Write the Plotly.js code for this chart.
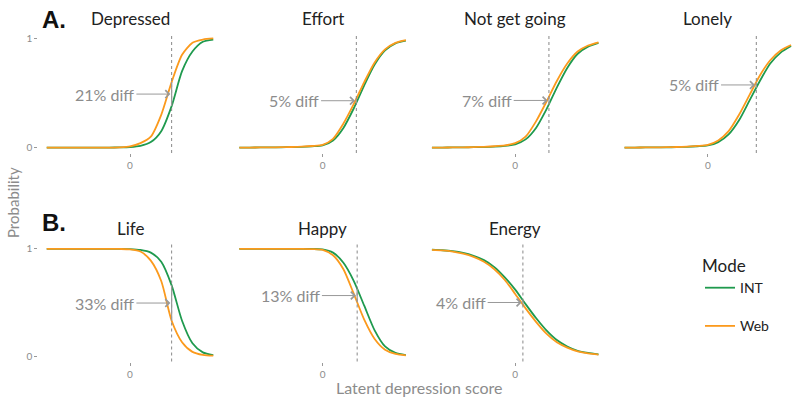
<!DOCTYPE html>
<html>
<head>
<meta charset="utf-8">
<script src="https://cdn.plot.ly/plotly-3.0.1.min.js"></script>
<style>
  html, body { margin: 0; padding: 0; background: #fff; }
  #chart { width: 800px; height: 404px; }
</style>
</head>
<body>
<div id="chart"></div>
<script>
// Item response curves by survey mode
const X = [-4, -3.5, -3, -2.5, -2, -1.5, -1, -0.5, 0, 0.5, 1, 1.5, 2, 2.5, 3, 3.5, 4];

const ITEMS = ['Depressed', 'Effort', 'Not get going', 'Lonely', 'Life', 'Happy', 'Energy'];

const INT_DEPRESSED = [0, 0, 0, 0, 0, 0, 0, 0.001, 0.004, 0.015, 0.05, 0.15, 0.38, 0.70, 0.88, 0.97, 0.99];
const WEB_DEPRESSED = [0, 0, 0, 0, 0, 0, 0, 0.002, 0.01, 0.04, 0.10, 0.30, 0.60, 0.85, 0.96, 0.99, 1.0];

const INT_EFFORT = [0, 0, 0.001, 0.001, 0.002, 0.004, 0.006, 0.011, 0.02, 0.065, 0.18, 0.36, 0.57, 0.76, 0.89, 0.955, 0.98];
const WEB_EFFORT = [0, 0, 0.001, 0.002, 0.003, 0.005, 0.008, 0.014, 0.025, 0.08, 0.22, 0.40, 0.60, 0.78, 0.90, 0.96, 0.985];

const INT_GOING = [0, 0, 0.001, 0.002, 0.003, 0.005, 0.008, 0.015, 0.03, 0.075, 0.18, 0.35, 0.55, 0.73, 0.86, 0.925, 0.96];
const WEB_GOING = [0, 0, 0.001, 0.002, 0.004, 0.007, 0.012, 0.02, 0.04, 0.10, 0.24, 0.42, 0.61, 0.77, 0.88, 0.935, 0.965];

const INT_LONELY = [0, 0, 0.001, 0.001, 0.002, 0.004, 0.007, 0.012, 0.02, 0.05, 0.12, 0.25, 0.43, 0.61, 0.77, 0.87, 0.93];
const WEB_LONELY = [0, 0, 0.001, 0.002, 0.003, 0.005, 0.009, 0.015, 0.025, 0.065, 0.15, 0.30, 0.48, 0.66, 0.80, 0.89, 0.94];

const INT_LIFE = [1, 1, 1, 1, 1, 1, 1, 1, 0.998, 0.99, 0.965, 0.88, 0.66, 0.33, 0.12, 0.035, 0.01];
const WEB_LIFE = [1, 1, 1, 1, 1, 1, 1, 0.999, 0.995, 0.975, 0.89, 0.70, 0.33, 0.13, 0.04, 0.012, 0.004];

const INT_HAPPY = [1, 1, 1, 1, 1, 1, 1, 0.999, 0.995, 0.965, 0.87, 0.70, 0.47, 0.24, 0.09, 0.03, 0.01];
const WEB_HAPPY = [1, 1, 1, 1, 1, 1, 1, 0.998, 0.99, 0.94, 0.81, 0.58, 0.34, 0.16, 0.06, 0.02, 0.007];

const INT_ENERGY = [0.992, 0.987, 0.978, 0.962, 0.935, 0.895, 0.83, 0.735, 0.62, 0.485, 0.355, 0.24, 0.15, 0.09, 0.05, 0.03, 0.017];
const WEB_ENERGY = [0.99, 0.985, 0.975, 0.955, 0.925, 0.88, 0.81, 0.71, 0.58, 0.445, 0.32, 0.21, 0.13, 0.08, 0.045, 0.025, 0.015];

const INT_SERIES = [INT_DEPRESSED, INT_EFFORT, INT_GOING, INT_LONELY, INT_LIFE, INT_HAPPY, INT_ENERGY];
const WEB_SERIES = [WEB_DEPRESSED, WEB_EFFORT, WEB_GOING, WEB_LONELY, WEB_LIFE, WEB_HAPPY, WEB_ENERGY];

// cut point (dotted line) where the mode difference is measured
const CUTOFFS = [2.0, 1.62, 1.62, 2.33, 2.0, 1.66, 0.37];
const DIFF_LABELS = ['21% diff', '5% diff', '7% diff', '5% diff', '33% diff', '13% diff', '4% diff'];

const GREEN = '#1f9a4e', ORANGE = '#fb9a1d', GREY = '#8c8c8c';
const FONT = 'Lato, "Open Sans", sans-serif';

// facet geometry (pixels, 800x404 page)
const W = 800, H = 404;
const COL_LEFT = 38.4, COL_STEP = 192.6, COL_W = 183.2;
const ROWS = [[33, 153], [243.5, 361.5]];
const POS = [[0, 0], [0, 1], [0, 2], [0, 3], [1, 0], [1, 1], [1, 2]];

function interp(xs, ys, x) {
  for (let i = 0; i < xs.length - 1; i++) {
    if (x >= xs[i] && x <= xs[i + 1]) {
      const t = (x - xs[i]) / (xs[i + 1] - xs[i]);
      return ys[i] + t * (ys[i + 1] - ys[i]);
    }
  }
  return ys[ys.length - 1];
}

// paper-anchored text helper (explicit anchors, no auto placement)
function label(px, py, text, font, extra) {
  return Object.assign({
    xref: 'paper', yref: 'paper', x: px / W, y: 1 - py / H, text,
    xanchor: 'center', yanchor: 'middle', showarrow: false, font,
  }, extra || {});
}

const traces = [];
const layout = {
  width: W, height: H,
  margin: { l: 0, r: 0, t: 0, b: 0 },
  paper_bgcolor: '#fff', plot_bgcolor: '#fff',
  font: { family: FONT, color: '#222' },
  showlegend: true,
  legend: {
    x: 700 / W, y: 1 - 250 / H, xanchor: 'left', yanchor: 'top',
    title: { text: 'Mode', font: { size: 17, color: '#222' } },
    font: { size: 14, color: '#222' },
    itemwidth: 30, tracegroupgap: 17, traceorder: 'grouped',
  },
  shapes: [], annotations: [],
};

ITEMS.forEach((name, i) => {
  const [r, c] = POS[i];
  const n = i === 0 ? '' : String(i + 1);
  const xa = 'x' + n, ya = 'y' + n;
  const left = COL_LEFT + c * COL_STEP;
  const [top, bottom] = ROWS[r];

  layout['xaxis' + n] = {
    domain: [left / W, (left + COL_W) / W], range: [-4.4, 4.4], anchor: ya,
    showgrid: false, zeroline: false, showline: false,
    tickvals: [0], ticktext: ['0'], ticks: 'outside', ticklen: 3, tickcolor: '#999',
    tickfont: { size: 10, color: GREY }, fixedrange: true,
  };
  layout['yaxis' + n] = {
    domain: [1 - bottom / H, 1 - top / H], range: [-0.05, 1.05], anchor: xa,
    showgrid: false, zeroline: false, showline: false,
    tickvals: [0, 1], ticktext: ['0', '1'],
    ticks: c === 0 ? 'outside' : '', ticklen: 3, tickcolor: '#999',
    showticklabels: c === 0, tickfont: { size: 10, color: GREY }, fixedrange: true,
  };

  traces.push({
    x: X, y: INT_SERIES[i], xaxis: xa, yaxis: ya, mode: 'lines', name: 'INT',
    legendgroup: 'INT', showlegend: i === 0,
    line: { color: GREEN, width: 1.8, shape: 'spline', smoothing: 0.7 },
  });
  traces.push({
    x: X, y: WEB_SERIES[i], xaxis: xa, yaxis: ya, mode: 'lines', name: 'Web',
    legendgroup: 'Web', showlegend: i === 0,
    line: { color: ORANGE, width: 1.8, shape: 'spline', smoothing: 0.7 },
  });

  const cut = CUTOFFS[i];
  layout.shapes.push({
    type: 'line', xref: xa, yref: ya + ' domain', x0: cut, x1: cut, y0: 0, y1: 1,
    line: { color: '#888', width: 1, dash: 'dot' },
  });
  const yi = interp(X, INT_SERIES[i], cut), yw = interp(X, WEB_SERIES[i], cut);
  layout.shapes.push({
    type: 'line', xref: xa, yref: ya, x0: cut, x1: cut, y0: yi, y1: yw,
    line: { color: '#999', width: 1.2 },
  });
  layout.annotations.push({
    xref: xa, yref: ya, x: cut - 0.06, y: (yi + yw) / 2, text: DIFF_LABELS[i],
    showarrow: true, ax: -34, ay: 0, xanchor: 'right', yanchor: 'middle',
    arrowhead: 4, arrowsize: 1.5, arrowwidth: 1, arrowcolor: '#999',
    font: { size: 16, color: GREY, family: FONT },
  });
  // facet title
  layout.annotations.push(label(left + COL_W / 2, top - 15, name, { size: 17, color: '#222', family: FONT }));
});

const BOLD = { size: 24, color: '#111', family: '"Liberation Sans", Arial, sans-serif' };
layout.annotations.push(
  label(40, 19, '<b>A.</b>', BOLD, { xanchor: 'left' }),
  label(40, 222, '<b>B.</b>', BOLD, { xanchor: 'left' }),
  label(13, 203, 'Probability', { size: 15, color: GREY, family: FONT }, { textangle: -90 }),
  label(419, 387, 'Latent depression score', { size: 16, color: GREY, family: FONT })
);

Plotly.newPlot('chart', traces, layout, { displayModeBar: false, staticPlot: true });
</script>
</body>
</html>
